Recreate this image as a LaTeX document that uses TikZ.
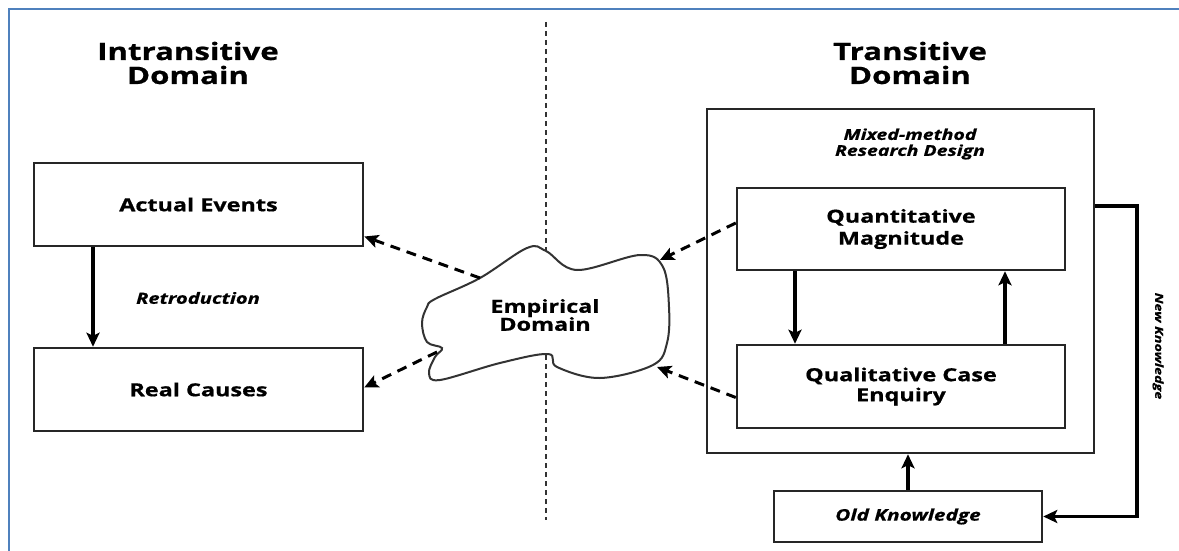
\documentclass[tikz,border=0pt]{standalone}
\usepackage{fontspec}
\setmainfont{Open Sans}[FakeStretch=1.3, BoldFeatures={FakeBold=0.8}, BoldItalicFeatures={FakeBold=0.8}]
\usetikzlibrary{arrows.meta}
\definecolor{frame_blue}{RGB}{79,129,189}

\begin{document}
\begin{tikzpicture}[x=1pt, y=-1pt, font=\bfseries,
    box/.style={draw=black!85, line width=2.5pt, inner sep=0pt, align=center},
    arr/.style={line width=3.2pt, -{Stealth[length=14pt, width=13pt, inset=3pt]}},
    darr/.style={line width=3pt, dash pattern=on 10pt off 7pt,
      -{Stealth[length=14pt, width=13pt, inset=3pt]}}]
  \useasboundingbox (0,0) rectangle (1179,551);
  % page frame
  \draw[frame_blue, line width=2.5pt] (9,551) -- (9,9) -- (1179,9);
  % headings
  \node[align=center, font=\fontsize{24}{24}\selectfont\bfseries] (intr) at (188,63) {Intransitive\\Domain};
  \node[align=center, font=\fontsize{24}{24}\selectfont\bfseries] (trans) at (910,63) {Transitive\\Domain};
  % divider
  \draw[black!80, line width=2.2pt, dash pattern=on 5pt off 4pt] (546,22) -- (546,520);
  % intransitive side
  \node[box, minimum width=329pt, minimum height=83pt, font=\fontsize{18}{20}\selectfont\bfseries] (act) at (198.5,204.5) {Actual Events};
  \node[box, minimum width=329pt, minimum height=83pt, font=\fontsize{18}{20}\selectfont\bfseries] (real) at (198.5,389.5) {Real Causes};
  \draw[arr] ([xshift=-105.5pt]act.south) -- ([xshift=-105.5pt]real.north);
  \node[font=\fontsize{15.5}{17}\selectfont\bfseries\itshape] (retro) at (198,298) {Retroduction};
  % empirical cloud
  \filldraw[fill=white, draw=black!80, line width=2pt] plot[smooth cycle, tension=0.6] coordinates {
    (435,299) (480,278) (527,248) (546,251) (577,270) (640,255) (663,267) (669,307)
    (667,343) (653,365) (600,378) (557,367) (548,354) (500,363) (440,380) (429,373)
    (435,357) (442,348) (427,342) (422,323) (427,307)};
  \node[align=center, font=\fontsize{18}{18}\selectfont\bfseries] (emp) at (545,315) {Empirical\\Domain};
  \coordinate (c1) at (480,278);
  \coordinate (c2) at (437,352);
  \coordinate (c3) at (660,260);
  \coordinate (c4) at (657,367);
  % transitive side
  \node[box, minimum width=387pt, minimum height=344pt] (design) at (900.5,281) {};
  \node[align=center, font=\fontsize{15}{16}\selectfont\bfseries\itshape] (mixlbl) at (910,144) {Mixed-method\\Research Design};
  \node[box, minimum width=328pt, minimum height=82pt, font=\fontsize{18}{22}\selectfont\bfseries] (quant) at (901,229) {Quantitative\\Magnitude};
  \node[box, minimum width=328pt, minimum height=83pt, font=\fontsize{18}{20}\selectfont\bfseries] (qual) at (901,386.5) {Qualitative Case\\Enquiry};
  \node[box, minimum width=268pt, minimum height=51pt, font=\fontsize{16}{18}\selectfont\bfseries\itshape] (old) at (908,516.5) {Old Knowledge};
  \draw[arr] ([xshift=-106pt]quant.south) -- ([xshift=-106pt]qual.north);
  \draw[arr] ([xshift=104pt]qual.north) -- ([xshift=104pt]quant.south);
  \draw[arr] (old.north) -- (old.north |- design.south);
  \draw[arr] (design.east |- 0,206) -| (1137,516.5) -- (old.east);
  \node[rotate=-90, font=\fontsize{11}{12}\selectfont\bfseries\itshape] (newk) at (1158,346) {New Knowledge};
  % dashed links to the empirical domain
  \draw[darr] (c1) -- ([yshift=-32pt]act.east);
  \draw[darr] (c2) -- ([yshift=2pt]real.east);
  \draw[darr] ([yshift=6pt]quant.west) -- (c3);
  \draw[darr] ([yshift=-11pt]qual.west) -- (c4);
\end{tikzpicture}
\end{document}
